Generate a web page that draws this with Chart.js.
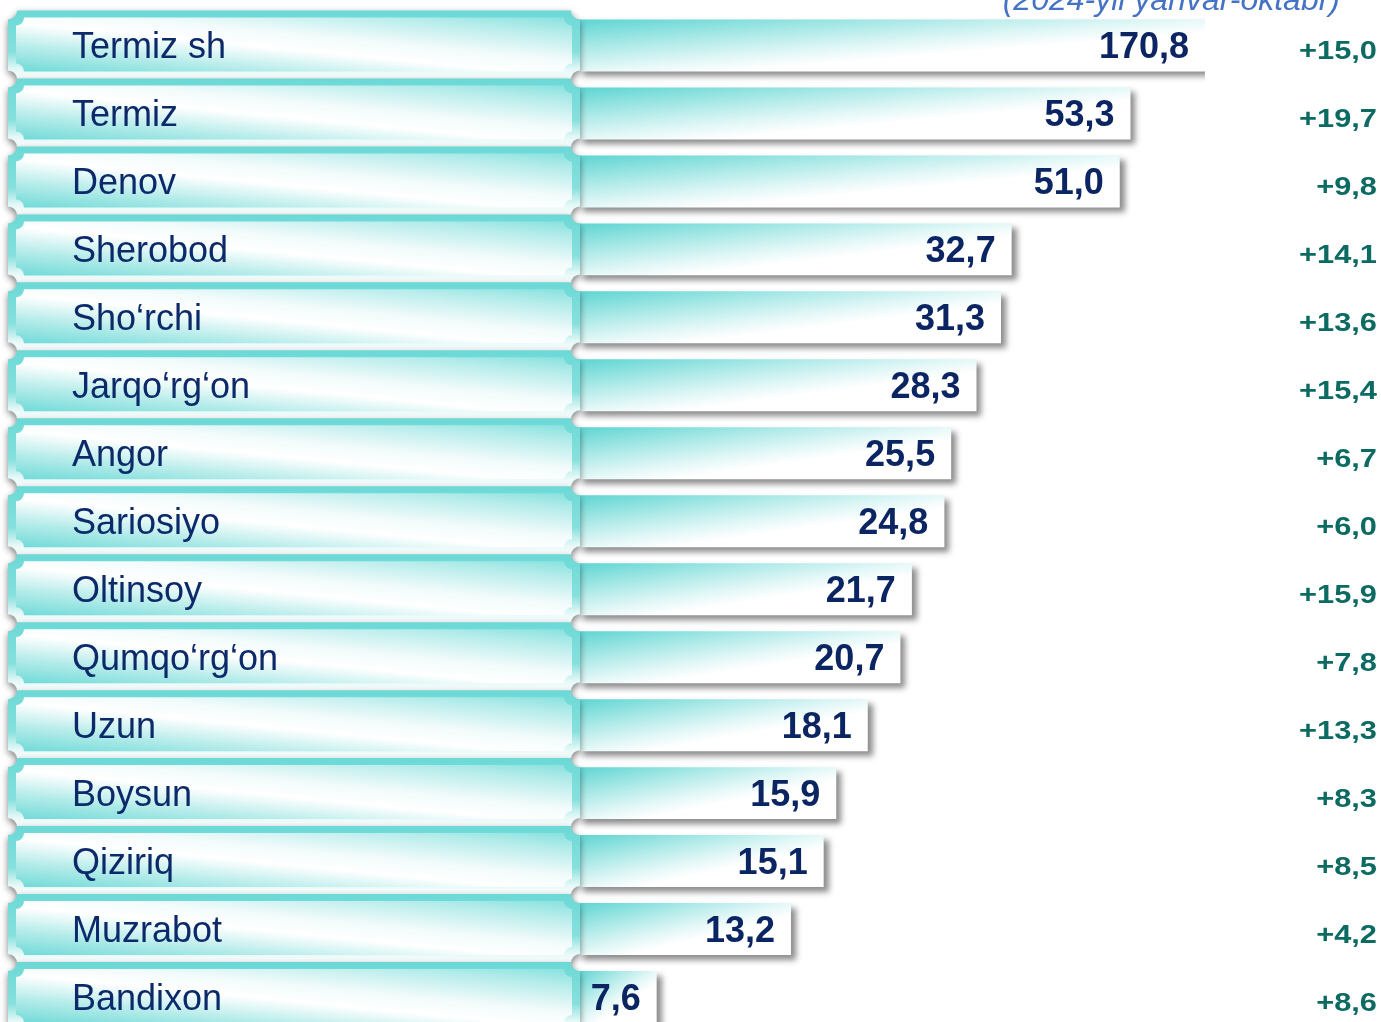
<!DOCTYPE html>
<html>
<head>
<meta charset="utf-8">
<script src="https://cdn.jsdelivr.net/npm/chart.js@4/dist/chart.umd.min.js"></script>
<style>
  html, body { margin: 0; padding: 0; background: #ffffff; overflow: hidden; }
  #wrap { width: 1381px; height: 1040px; }
</style>
</head>
<body>
<div id="wrap"><canvas id="chart" width="1381" height="1040"></canvas></div>
<script>
// --- Dados ---
const regions = ["Termiz sh", "Termiz", "Denov", "Sherobod", "Sho\u2018rchi", "Jarqo\u2018rg\u2018on", "Angor",
  "Sariosiyo", "Oltinsoy", "Qumqo\u2018rg\u2018on", "Uzun", "Boysun", "Qiziriq", "Muzrabot", "Bandixon"];
const values = [170.8, 53.3, 51.0, 32.7, 31.3, 28.3, 25.5, 24.8, 21.7, 20.7, 18.1, 15.9, 15.1, 13.2, 7.6];
const growth = [15.0, 19.7, 9.8, 14.1, 13.6, 15.4, 6.7, 6.0, 15.9, 7.8, 13.3, 8.3, 8.5, 4.2, 8.6];
const subtitle = "(2024-yil yanvar-oktabr)";

const FONT = '"Liberation Sans", Arial, sans-serif';
const BAR_H = 52;

function fmt(v) {
  return v.toFixed(1).replace(".", ",");
}

// bar gradient: teal top-left, white band running bottom-left -> top-right
function diagGradient(ctx, x0, top, w, h, stops) {
  const k = (w * h) / (0.8 * (w * w + h * h));
  const g = ctx.createLinearGradient(x0, top, x0 + h * k, top + w * k);
  stops.forEach(function (s) { g.addColorStop(s[0], s[1]); });
  return g;
}

// label panel gradient: teal bottom-left and top-right, white band between
function panelGradient(ctx, x0, top, w, h) {
  const k = (2 * w * h) / (w * w + h * h);
  const g = ctx.createLinearGradient(x0, top + h, x0 + h * k, top + h - w * k);
  g.addColorStop(0, "#6fdad7");
  g.addColorStop(0.22, "#b2ebe9");
  g.addColorStop(0.45, "#ffffff");
  g.addColorStop(0.6, "#f2fbfb");
  g.addColorStop(0.85, "#b4ecea");
  g.addColorStop(1, "#86e1de");
  return g;
}

// rectangle with concave (notched) corners
function notchedRect(ctx, x, y, w, h, r) {
  ctx.beginPath();
  ctx.moveTo(x + r, y);
  ctx.lineTo(x + w - r, y);
  ctx.arc(x + w, y, r, Math.PI, Math.PI / 2, true);
  ctx.lineTo(x + w, y + h - r);
  ctx.arc(x + w, y + h, r, 1.5 * Math.PI, Math.PI, true);
  ctx.lineTo(x + r, y + h);
  ctx.arc(x, y + h, r, 0, 1.5 * Math.PI, true);
  ctx.lineTo(x, y + r);
  ctx.arc(x, y, r, Math.PI / 2, 0, true);
  ctx.closePath();
}

const decorPlugin = {
  id: "decor",
  beforeDatasetsDraw(chart) {
    const ctx = chart.ctx;
    ctx.save();
    ctx.shadowColor = "rgba(0,0,0,0.45)";
    ctx.shadowBlur = 6;
    ctx.shadowOffsetX = 5;
    ctx.shadowOffsetY = 5;
  },
  afterDatasetsDraw(chart) {
    const ctx = chart.ctx;
    ctx.restore();
    const yScale = chart.scales.y;
    const area = chart.chartArea;
    const meta = chart.getDatasetMeta(0);

    chart.data.labels.forEach(function (label, i) {
      const c = yScale.getPixelForValue(i);
      // label box
      const bx = 8, by = c - 35, bw = 572, bh = 69;
      ctx.save();
      ctx.shadowColor = "rgba(0,0,0,0.5)";
      ctx.shadowBlur = 7;
      ctx.shadowOffsetX = 0;
      ctx.shadowOffsetY = 3;
      const og = ctx.createLinearGradient(0, by, 0, by + bh);
      og.addColorStop(0, "#6bd9d6");
      og.addColorStop(0.6, "#86e0dd");
      og.addColorStop(0.85, "#e3f8f7");
      og.addColorStop(1, "#ffffff");
      ctx.fillStyle = og;
      notchedRect(ctx, bx, by, bw, bh, 9);
      ctx.fill();
      ctx.restore();

      const ix = bx + 8, iy = by + 7, iw = bw - 16, ih = bh - 15;
      ctx.fillStyle = panelGradient(ctx, ix, iy, iw, ih);
      notchedRect(ctx, ix, iy, iw, ih, 8);
      ctx.fill();

      ctx.fillStyle = "#0c2a6a";
      ctx.font = "36px " + FONT;
      ctx.textAlign = "left";
      ctx.textBaseline = "alphabetic";
      ctx.fillText(label, 72, c + 13);

      // value label at the end of the bar
      const end = Math.min(meta.data[i].x, area.right);
      ctx.fillStyle = "#0b2563";
      ctx.font = "bold 36px " + FONT;
      ctx.textAlign = "right";
      ctx.fillText(fmt(chart.data.datasets[0].data[i]), end - 16, c + 13);

      // growth column
      ctx.save();
      ctx.translate(1377, c + 14);
      ctx.scale(1.1, 0.92);
      ctx.fillStyle = "#0b6b62";
      ctx.font = "bold 28px " + FONT;
      ctx.textAlign = "right";
      ctx.fillText("+" + fmt(growth[i]), 0, 0);
      ctx.restore();
    });

    // subtitle (cut at the top edge as in the source)
    ctx.fillStyle = "#4472c4";
    ctx.font = "italic 32px " + FONT;
    ctx.textAlign = "right";
    ctx.fillText(subtitle, 1340, 10);
  }
};

new Chart(document.getElementById("chart").getContext("2d"), {
  type: "bar",
  data: {
    labels: regions,
    datasets: [{
      data: values,
      borderWidth: 0,
      barPercentage: BAR_H / 68,
      categoryPercentage: 1,
      clip: { left: 10, top: 10, right: 0, bottom: 10 },
      backgroundColor: function (context) {
        const chart = context.chart;
        const area = chart.chartArea;
        if (!area || context.dataIndex === undefined) return "#8fe3e0";
        const xs = chart.scales.x, ys = chart.scales.y;
        const x0 = area.left;
        const x1 = Math.min(xs.getPixelForValue(values[context.dataIndex]), area.right);
        const top = ys.getPixelForValue(context.dataIndex) - BAR_H / 2;
        return diagGradient(chart.ctx, x0, top, Math.max(x1 - x0, 10), BAR_H, [
          [0, "#5dd5d2"], [0.5, "#b5ecea"], [0.8, "#e6f8f8"], [1, "#ffffff"]
        ]);
      }
    }]
  },
  options: {
    indexAxis: "y",
    responsive: false,
    animation: false,
    layout: { padding: { left: 578, right: 176, top: 11.5, bottom: 9 } },
    scales: {
      x: { type: "logarithmic", min: 5.5, max: 72.4, display: false },
      y: { display: false }
    },
    plugins: {
      legend: { display: false },
      tooltip: { enabled: false }
    }
  },
  plugins: [decorPlugin]
});
</script>
</body>
</html>
